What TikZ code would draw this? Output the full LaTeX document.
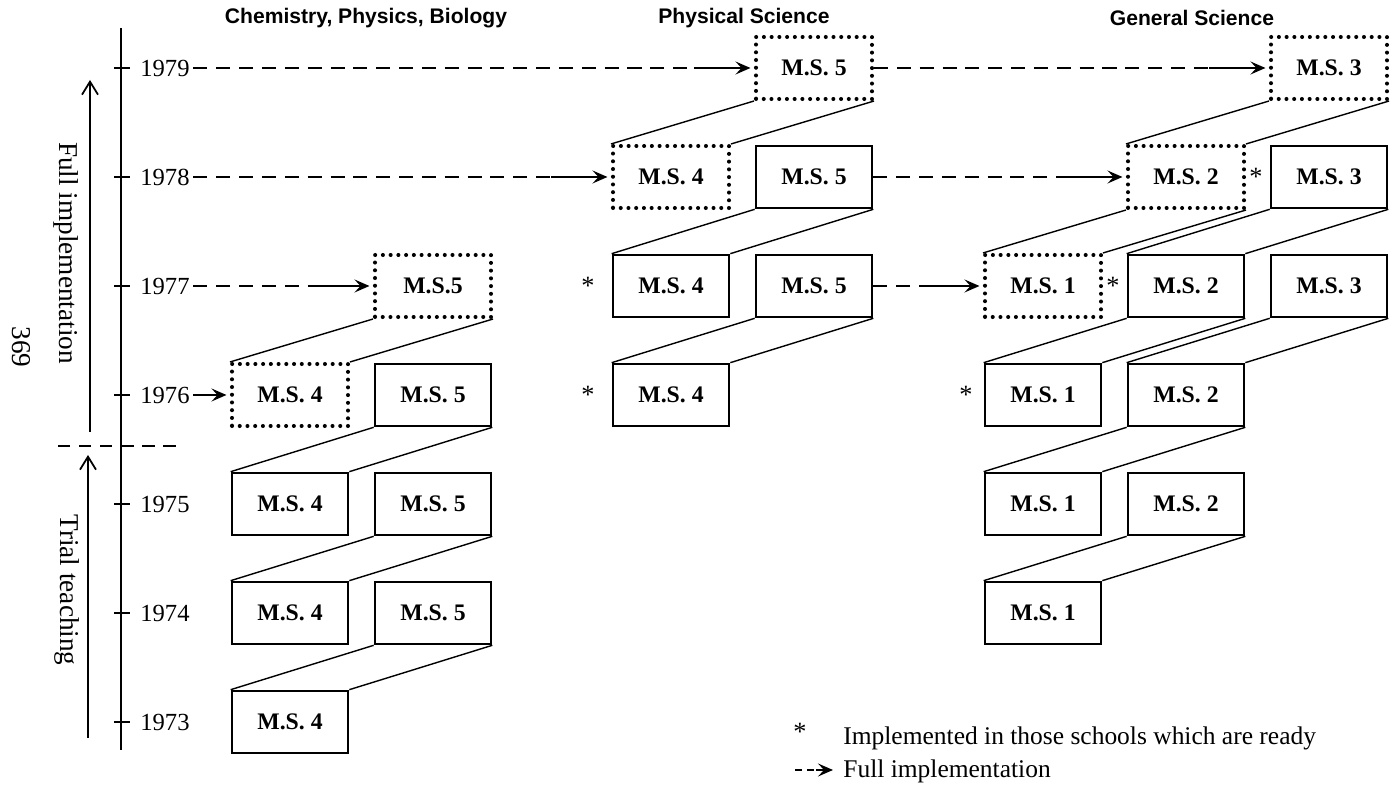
\documentclass[tikz,border=0pt]{standalone}
\usepackage{fontspec}
\setmainfont{Liberation Serif}
\newfontfamily\headfont{Liberation Sans}
\usetikzlibrary{arrows.meta,positioning}

\tikzset{
  msbox/.style={draw, line width=1.5pt, minimum width=2.32cm, minimum height=1.24cm,
    inner sep=0pt, font=\fontsize{13.5}{15}\selectfont\bfseries},
  planbox/.style={msbox, line width=2.3pt, line cap=round, dash pattern=on 0pt off 4.4pt},
  link/.style={line width=0.8pt},
  year/.style={inner sep=2pt, font=\fontsize{14}{16}\selectfont},
  side/.style={inner sep=0pt, font=\fontsize{15.5}{17}\selectfont},
  legend/.style={inner sep=0pt, font=\fontsize{14.5}{16}\selectfont},
  asterisk/.style={inner sep=1pt, font=\fontsize{15}{16}\selectfont},
  heading/.style={font=\headfont\bfseries\fontsize{12}{14}\selectfont},
  fulldash/.style={line width=0.9pt, dash pattern=on 8pt off 5pt},
  fullhead/.style={line width=0.9pt, -{Stealth[length=3mm,width=2.6mm,inset=1.2mm]}},
  phase/.style={line width=1pt, -{Straight Barb[length=2.6mm,width=3.2mm]}},
}

\begin{document}
\begin{tikzpicture}
\useasboundingbox (0,0) rectangle (27.9,15.76);

% time axis
\draw[line width=0.9pt] (2.42,15.2) -- (2.42,0.76);
\foreach \yr/\y in {73/1.32,74/3.50,75/5.68,76/7.86,77/10.04,78/12.22,79/14.40}{
  \draw[line width=0.9pt] (2.28,\y) -- (2.6,\y);
  \node[year, anchor=west] (y\yr) at (2.73,\y) {19\yr};
}
\draw[line width=0.9pt, dash pattern=on 7pt off 5pt] (1.16,6.84) -- (3.66,6.84);

% phases
\coordinate (fullbot) at (1.8,7.12);
\coordinate (fulltop) at (1.8,14.16);
\coordinate (trialbot) at (1.76,1.0);
\coordinate (trialtop) at (1.76,6.66);
\draw[phase] (fullbot) -- (fulltop);
\draw[phase] (trialbot) -- (trialtop);
\node[side, rotate=-90] (fulllbl) at (1.33,10.7) {Full implementation};
\node[side, rotate=-90] (triallbl) at (1.34,3.96) {Trial teaching};
\node[side, rotate=-90] (pageno) at (0.42,8.82) {369};

% headings
\node[heading] (hcpb) at (7.32,15.4) {Chemistry, Physics, Biology};
\node[heading] (hps) at (14.88,15.4) {Physical Science};
\node[heading] (hgs) at (23.84,15.4) {General Science};

% Chemistry, Physics, Biology
\node[msbox] (cpb4-73) at (5.80,1.32) {M.S. 4};
\node[msbox] (cpb4-74) at (5.80,3.50) {M.S. 4};
\node[msbox] (cpb5-74) at (8.66,3.50) {M.S. 5};
\node[msbox] (cpb4-75) at (5.80,5.68) {M.S. 4};
\node[msbox] (cpb5-75) at (8.66,5.68) {M.S. 5};
\node[planbox] (cpb4-76) at (5.80,7.86) {M.S. 4};
\node[msbox] (cpb5-76) at (8.66,7.86) {M.S. 5};
\node[planbox] (cpb5-77) at (8.66,10.04) {M.S.5};

% Physical Science
\node[msbox] (ps4-76) at (13.42,7.86) {M.S. 4};
\node[msbox] (ps4-77) at (13.42,10.04) {M.S. 4};
\node[msbox] (ps5-77) at (16.28,10.04) {M.S. 5};
\node[planbox] (ps4-78) at (13.42,12.22) {M.S. 4};
\node[msbox] (ps5-78) at (16.28,12.22) {M.S. 5};
\node[planbox] (ps5-79) at (16.28,14.40) {M.S. 5};

% General Science
\node[msbox] (gs1-74) at (20.86,3.50) {M.S. 1};
\node[msbox] (gs1-75) at (20.86,5.68) {M.S. 1};
\node[msbox] (gs2-75) at (23.72,5.68) {M.S. 2};
\node[msbox] (gs1-76) at (20.86,7.86) {M.S. 1};
\node[msbox] (gs2-76) at (23.72,7.86) {M.S. 2};
\node[planbox] (gs1-77) at (20.86,10.04) {M.S. 1};
\node[msbox] (gs2-77) at (23.72,10.04) {M.S. 2};
\node[msbox] (gs3-77) at (26.58,10.04) {M.S. 3};
\node[planbox] (gs2-78) at (23.72,12.22) {M.S. 2};
\node[msbox] (gs3-78) at (26.58,12.22) {M.S. 3};
\node[planbox] (gs3-79) at (26.58,14.40) {M.S. 3};

% steps from one year to the next
\foreach \lo/\up in {cpb4-73/cpb5-74, cpb4-74/cpb5-75, cpb4-75/cpb5-76, cpb4-76/cpb5-77,
    ps4-76/ps5-77, ps4-77/ps5-78, ps4-78/ps5-79,
    gs1-74/gs2-75, gs1-75/gs2-76, gs1-76/gs2-77, gs2-76/gs3-77,
    gs1-77/gs2-78, gs2-77/gs3-78, gs2-78/gs3-79}{
  \draw[link] (\lo.north west) -- (\up.south west);
  \draw[link] (\lo.north east) -- (\up.south east);
}

% schools which are ready
\node[asterisk, left=0.3cm of ps4-76] (ast-ps4-76) {*};
\node[asterisk, left=0.3cm of ps4-77] (ast-ps4-77) {*};
\node[asterisk, left=0.18cm of gs1-76] (ast-gs1-76) {*};
\node[asterisk, left=0.1cm of gs2-77] (ast-gs2-77) {*};
\node[asterisk, left=0.1cm of gs3-78] (ast-gs3-78) {*};

% full implementation
\foreach \a/\b in {y79/ps5-79, ps5-79/gs3-79, y78/ps4-78, ps5-78/gs2-78, y77/cpb5-77, ps5-77/gs1-77}{
  \draw[fulldash] (\a.east) -- ([xshift=-1.2cm]\b.west);
  \draw[fullhead] ([xshift=-1.2cm]\b.west) -- ([xshift=-2pt]\b.west);
}
\draw[fullhead] (y76.east) -- ([xshift=-2pt]cpb4-76.west);

% legend
\node[asterisk] (legstar) at (16.0,1.13) {*};
\node[legend, anchor=west] (legready) at (16.86,1.0) {Implemented in those schools which are ready};
\coordinate (legA) at (15.9,0.36);
\coordinate (legB) at (16.32,0.36);
\coordinate (legC) at (16.66,0.36);
\draw[fulldash, dash pattern=on 4pt off 3pt] (legA) -- (legB);
\draw[fullhead] (legB) -- (legC);
\node[legend, anchor=west] (legfull) at (16.86,0.33) {Full implementation};
\end{tikzpicture}
\end{document}
